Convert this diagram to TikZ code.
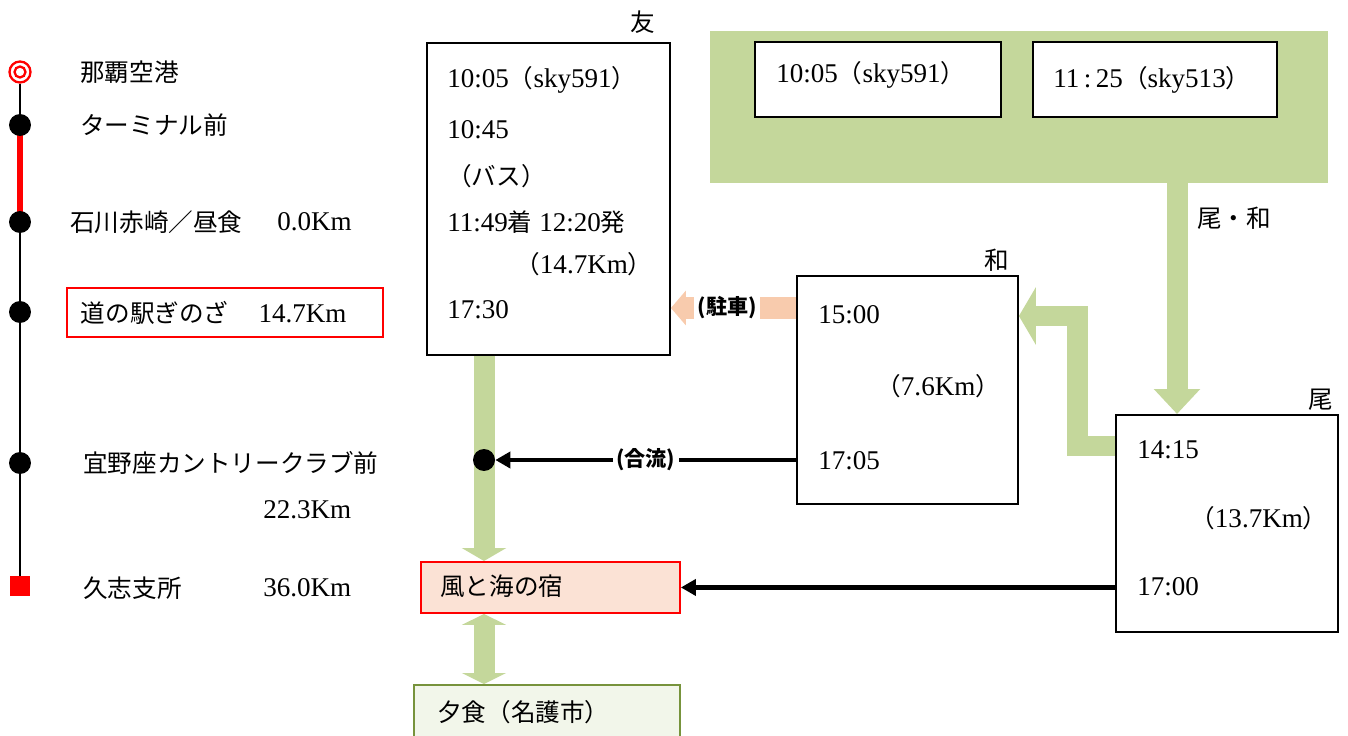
\documentclass[tikz,border=0pt]{standalone}
\usepackage{fontspec}
\setmainfont[Scale=1.1]{Liberation Serif}
\newfontfamily\jf{Noto Sans CJK JP}
\usetikzlibrary{arrows.meta,positioning}

\definecolor{grnC}{HTML}{C4D79B}
\definecolor{pchC}{HTML}{F8CBAD}
\definecolor{kzF}{HTML}{FBE2D5}
\definecolor{yuF}{HTML}{F2F6EA}
\definecolor{yuD}{HTML}{77933C}

\tikzstyle{box} = [draw, rectangle, line width=1.1pt, fill=white, inner sep=0pt, anchor=north west]
\tikzstyle{txt} = [anchor=west, inner sep=0pt]
\tikzstyle{dot} = [circle, fill=black, inner sep=0pt, minimum size=0.44cm]
\tikzstyle{tag} = [fill=white, inner sep=2pt, font=\jf\bfseries\fontsize{12}{14}\selectfont]
\tikzstyle{garrow} = [draw=grnC, line width=0.42cm]
\tikzstyle{barrow} = [draw, line width=0.09cm, -{Triangle[width=0.32cm,length=0.3cm]}]

\begin{document}
\begin{tikzpicture}[x=0.02cm, y=-0.02cm, font=\fontsize{14}{17}\selectfont]

\useasboundingbox (0,0) rectangle (1348,736);

% route on the left
\node[circle,draw=red,line width=1.3pt,
      minimum size=0.42cm,inner sep=0pt]
      (s1) at (20,72) {};
\draw[red,line width=1.3pt] (s1.center) circle (0.11cm);
\coordinate (s2) at (20,125);
\coordinate (s3) at (20,222);
\coordinate (s4) at (20,312);
\coordinate (s5) at (20,463);
\node[fill=red,minimum size=0.4cm,inner sep=0pt]
      (s6) at (20,586) {};

\draw[line width=1.2pt] (s1.south) -- (s2) -- (s3) -- (s4) -- (s5) -- (s6.north);
\draw[red,line width=0.12cm] (s2) -- (s3);
\foreach \s in {s2,s3,s4,s5}
  \node[dot] at (\s) {};

\node[txt] (l1) at (80,72) {\jf 那覇空港};
\node[txt] (l2) at (80,125) {\jf ターミナル前};
\node[txt] (l3) at (70,222) {\jf 石川赤崎／昼食};
\node[txt] (d3) at (277,222) {0.0Km};
\node[draw=red,line width=1.1pt,anchor=north west,
      minimum width=6.32cm,minimum height=0.98cm,
      inner xsep=0.28cm,text width=5.76cm,align=left]
      (l4) at (66,287) {{\jf 道の駅ぎのざ}\hspace{0.6cm}14.7Km};
\node[txt] (l5) at (83,463) {\jf 宜野座カントリークラブ前};
\node[txt] (d5) at (263,510) {22.3Km};
\node[txt] (l6) at (83,588) {\jf 久志支所};
\node[txt] (d6) at (263,588) {36.0Km};

% boxes
\node[box,minimum width=4.86cm,minimum height=6.24cm]
      (tomo) at (426,42) {};
\node[txt] (tomoL) at (630,22) {\jf 友};
\node[txt] (t1) at (447,80) {10:05{\jf （}sky591{\jf ）}};
\node[txt] (t2) at (447,130) {10:45};
\node[txt] (t3) at (447,176) {\jf （バス）};
\node[txt] (t4) at (447,222) {11:49{\jf 着}\ 12:20{\jf 発}};
\node[txt] (t5) at (515,264) {{\jf （}14.7Km{\jf ）}};
\node[txt] (t6) at (447,310) {17:30};

\node[fill=grnC,anchor=north west,inner sep=0pt,
      minimum width=12.36cm,minimum height=3.04cm]
      (grp) at (710,31) {};
\node[box,minimum width=4.92cm,minimum height=1.5cm]
      (f1) at (754,41) {};
\node[txt] (f1t) at (776,75) {10:05{\jf （}sky591{\jf ）}};
\node[box,minimum width=4.88cm,minimum height=1.5cm]
      (f2) at (1032,41) {};
\node[txt] (f2t) at (1053,80) {11\,:\,25{\jf （}sky513{\jf ）}};

\node[box,minimum width=4.42cm,minimum height=4.56cm]
      (wa) at (796,275) {};
\node[txt] (waL) at (984,260) {\jf 和};
\node[txt] (w1) at (818,315) {15:00};
\node[txt] (w2) at (876,386) {{\jf （}7.6Km{\jf ）}};
\node[txt] (w3) at (818,461) {17:05};

\node[box,minimum width=4.44cm,minimum height=4.34cm]
      (bi) at (1115,414) {};
\node[txt] (biL) at (1308,400) {\jf 尾};
\node[txt] (b1) at (1137,450) {14:15};
\node[txt] (b2) at (1190,518) {{\jf （}13.7Km{\jf ）}};
\node[txt] (b3) at (1137,587) {17:00};

\node[box,draw=red,fill=kzF,minimum width=5.18cm,minimum height=1.02cm]
      (kaze) at (420,561) {};
\node[txt] (kazeT) at (440,586) {\jf 風と海の宿};
\node[box,draw=yuD,fill=yuF,minimum width=5.32cm,minimum height=1.2cm]
      (yu) at (413,684) {};
\node[txt] (yuT) at (437,712) {\jf 夕食（名護市）};

% connectors
\coordinate (gA) at (1177,183);
\draw[garrow,-{Triangle[width=0.9cm,length=0.5cm]}]
     (gA) -- (gA |- bi.north);
\node[txt] (gAL) at (1197,218) {\jf 尾・和};

\coordinate (e1) at (1115,446);
\coordinate (e2) at (1077,316);
\draw[garrow,-{Triangle[width=1.14cm,length=0.34cm]}]
     (e1) -| (e2) -- (wa.east |- e2);

\coordinate (p1) at (796,308);
\draw[draw=pchC,line width=0.46cm,-{Triangle[width=0.68cm,length=0.3cm]}]
     (p1)
      -- node[tag,pos=0.55]{(駐車)}
     (tomo.east |- p1);

\coordinate (mjc) at (484,460);
\draw[garrow,-{Triangle[width=0.88cm,length=0.26cm]}]
     (tomo.south -| mjc) -- (kaze.north -| mjc);
\node[dot] (mj) at (mjc) {};

\draw[barrow]
     (wa.west |- mj)
      -- node[tag,pos=0.5]{(合流)}
     (mj);

\draw[barrow]
     (bi.west |- kaze.east) -- (kaze.east);

\draw[garrow,{Triangle[width=0.88cm,length=0.22cm]}-{Triangle[width=0.88cm,length=0.22cm]}]
     (kaze.south -| mjc) -- (yu.north -| mjc);

\end{tikzpicture}
\end{document}
